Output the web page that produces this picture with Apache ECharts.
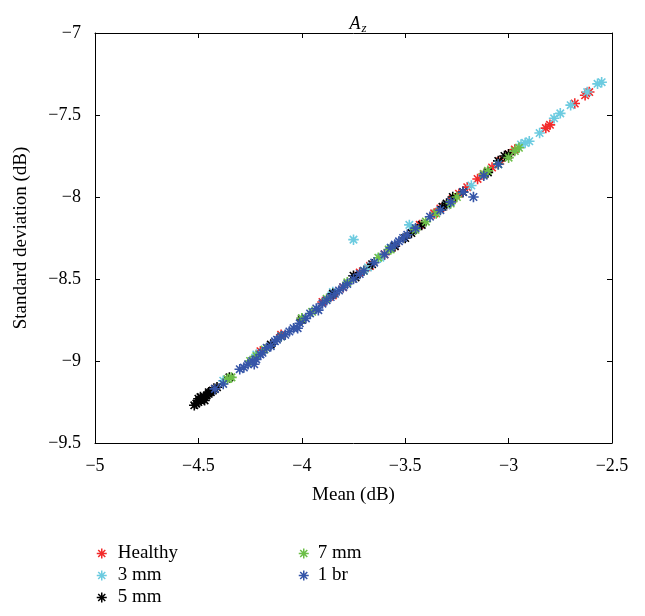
<!DOCTYPE html>
<html>
<head>
<meta charset="utf-8">
<script src="https://cdn.jsdelivr.net/npm/echarts@6/dist/echarts.min.js"></script>
<style>html,body{margin:0;padding:0;background:#fff}#c{width:645px;height:616px}</style>
</head>
<body>
<div id="c"></div>
<script>
const seriesNames = ['Healthy', '3 mm', '5 mm', '7 mm', '1 br'];
const xTicks = [-5, -4.5, -4, -3.5, -3, -2.5];
const yTicks = [-9.5, -9, -8.5, -8, -7.5, -7];

const healthyMean = [-2.61,-2.63,-2.68,-2.80,-2.82,-2.97,-3.00,-3.04,-3.08,-3.15,-3.20,-3.24,-3.27,-3.30,-3.36,-3.43,-3.46,-3.55,-3.60,-3.67,-3.72,-3.80,-3.85,-3.90,-4.00,-4.10,-4.20,-3.33,-3.12];
const healthyStd  = [-7.36,-7.38,-7.43,-7.56,-7.58,-7.71,-7.74,-7.78,-7.82,-7.89,-7.94,-7.98,-8.01,-8.05,-8.10,-8.17,-8.20,-8.30,-8.35,-8.42,-8.46,-8.55,-8.60,-8.64,-8.74,-8.84,-8.94,-8.07,-7.86];

const mm3Mean = [-2.55,-2.57,-2.62,-2.70,-2.75,-2.78,-2.85,-2.90,-2.94,-3.05,-3.18,-3.30,-3.46,-3.48,-3.57,-3.75,-3.68,-3.85,-4.00,-4.22,-4.38,-3.62,-2.92];
const mm3Std  = [-7.30,-7.31,-7.36,-7.44,-7.49,-7.52,-7.61,-7.66,-7.68,-7.80,-7.93,-8.05,-8.20,-8.17,-8.31,-8.26,-8.43,-8.58,-8.74,-8.96,-9.12,-8.37,-7.67];

const mm5Mean = [-4.52,-4.51,-4.50,-4.49,-4.48,-4.47,-4.46,-4.45,-4.44,-4.43,-4.42,-4.41,-4.49,-4.47,-4.50,-4.45,-4.35,-4.15,-4.00,-3.85,-3.75,-3.74,-3.66,-3.55,-3.50,-3.47,-3.42,-3.32,-3.30,-3.27,-3.22,-3.10,-3.05,-3.02,-3.00];
const mm5Std  = [-9.27,-9.26,-9.25,-9.24,-9.23,-9.22,-9.21,-9.20,-9.19,-9.18,-9.17,-9.16,-9.22,-9.24,-9.23,-9.19,-9.10,-8.90,-8.75,-8.59,-8.48,-8.49,-8.41,-8.30,-8.25,-8.22,-8.17,-8.06,-8.04,-8.00,-7.97,-7.85,-7.78,-7.75,-7.74];

const mm7Mean = [-4.36,-4.34,-4.25,-4.22,-4.18,-4.10,-4.00,-3.95,-3.88,-3.78,-3.70,-3.63,-3.58,-3.45,-3.40,-3.35,-3.25,-3.12,-3.10,-3.05,-3.00,-2.97,-2.95,-3.57,-3.28];
const mm7Std  = [-9.11,-9.10,-9.00,-8.97,-8.93,-8.85,-8.74,-8.70,-8.62,-8.52,-8.45,-8.37,-8.32,-8.20,-8.15,-8.10,-8.00,-7.86,-7.84,-7.80,-7.76,-7.72,-7.70,-8.32,-8.04];

const br1Mean = [-4.42,-4.38,-4.30,-4.28,-4.26,-4.24,-4.22,-4.20,-4.19,-4.17,-4.15,-4.13,-4.12,-4.10,-4.08,-4.06,-4.04,-4.01,-3.98,-3.96,-3.93,-3.90,-3.88,-3.86,-3.84,-3.82,-3.80,-3.78,-3.75,-3.72,-3.70,-3.65,-3.60,-3.57,-3.55,-3.53,-3.51,-3.49,-3.45,-3.38,-3.33,-3.28,-3.22,-3.17,-3.12,-3.05,-4.23,-4.02,-3.92];
const br1Std  = [-9.17,-9.14,-9.05,-9.04,-9.02,-9.00,-8.99,-8.96,-8.95,-8.92,-8.91,-8.88,-8.87,-8.85,-8.84,-8.82,-8.80,-8.77,-8.74,-8.71,-8.68,-8.65,-8.63,-8.61,-8.59,-8.57,-8.55,-8.53,-8.50,-8.47,-8.45,-8.40,-8.35,-8.31,-8.29,-8.27,-8.25,-8.23,-8.19,-8.12,-8.08,-8.03,-7.97,-8.00,-7.87,-7.80,-9.02,-8.80,-8.69];

const colors = ['#f22a2a', '#6ccbe0', '#000000', '#6cbf48', '#3555a8'];
const means = [healthyMean, mm3Mean, mm5Mean, mm7Mean, br1Mean];
const stds = [healthyStd, mm3Std, mm5Std, mm7Std, br1Std];

const star = 'path://M0,-10L0,10M-10,0L10,0M-7.07,-7.07L7.07,7.07M-7.07,7.07L7.07,-7.07';
const font = 'Liberation Serif';
const fmt = v => String(v).replace('-', '\u2212');

const chart = echarts.init(document.getElementById('c'), null, {renderer: 'canvas'});
const series = seriesNames.map((n, i) => ({
  name: n,
  type: 'scatter',
  symbol: star,
  symbolSize: 10.5,
  itemStyle: {color: 'rgba(0,0,0,0)', borderColor: colors[i], borderWidth: 1.6, opacity: 1},
  emphasis: {disabled: true},
  data: means[i].map((m, k) => [m, stds[i][k]])
}));

const axisCommon = {
  axisLine: {show: true, lineStyle: {color: '#000', width: 1}},
  axisTick: {show: true, inside: true, length: 5, lineStyle: {color: '#000'}},
  splitLine: {show: false}
};

const legendCommon = {
  orient: 'vertical', top: 539, itemWidth: 10, itemHeight: 10, itemGap: 3, height: 80,
  icon: star, itemStyle: {borderWidth: 1.5}
};

chart.setOption({
  animation: false,
  backgroundColor: '#fff',
  title: {
    text: '{a|A}{z|z}',
    left: 353, top: 8, textAlign: 'center',
    textStyle: {rich: {a: {fontFamily: font, fontStyle: 'italic', fontWeight: 'normal', fontSize: 18, color: '#000'},
                       z: {fontFamily: font, fontStyle: 'italic', fontWeight: 'normal', fontSize: 13, color: '#000', verticalAlign: 'bottom', padding: [9, 0, 0, 1]}}}
  },
  grid: {left: 95, right: 33, top: 33, bottom: 173, containLabel: false},
  legend: [
    Object.assign({data: seriesNames.slice(0, 3), left: 91,
      textStyle: {fontFamily: font, fontSize: 19, color: '#000', padding: [0, 0, 0, 6]}}, legendCommon),
    Object.assign({data: seriesNames.slice(3), left: 293,
      textStyle: {fontFamily: font, fontSize: 19, color: '#000', padding: [0, 0, 0, 4]}}, legendCommon)
  ],
  xAxis: [
    Object.assign({type: 'value', min: xTicks[0], max: xTicks[xTicks.length - 1], interval: 0.5, position: 'bottom',
      name: 'Mean (dB)', nameLocation: 'middle', nameGap: 43,
      nameTextStyle: {fontFamily: font, fontSize: 19, color: '#000'},
      axisLabel: {fontFamily: font, fontSize: 18, color: '#000', margin: 14, formatter: fmt}}, axisCommon),
    Object.assign({type: 'value', min: xTicks[0], max: xTicks[xTicks.length - 1], interval: 0.5, position: 'top',
      axisLabel: {show: false}}, axisCommon)
  ],
  yAxis: [
    Object.assign({type: 'value', min: yTicks[0], max: yTicks[yTicks.length - 1], interval: 0.5, position: 'left',
      name: 'Standard deviation (dB)', nameLocation: 'middle', nameGap: 64,
      nameTextStyle: {fontFamily: font, fontSize: 19, color: '#000'},
      axisLabel: {fontFamily: font, fontSize: 18, color: '#000', margin: 14, formatter: fmt}}, axisCommon),
    Object.assign({type: 'value', min: yTicks[0], max: yTicks[yTicks.length - 1], interval: 0.5, position: 'right',
      axisLabel: {show: false}}, axisCommon)
  ],
  series: series
});
</script>
</body>
</html>
